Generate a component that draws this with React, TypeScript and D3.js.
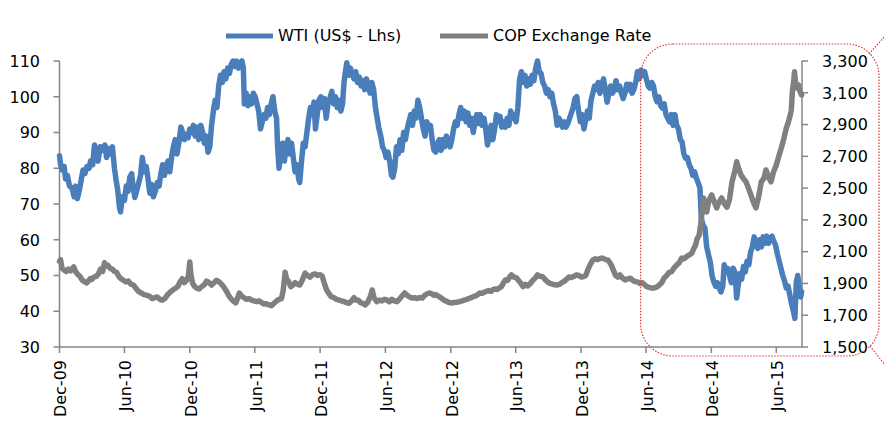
import React from "react";
import * as d3 from "d3";

const wtiData: [string, number][] = [
  ["2009-12-01",83.5],["2009-12-04",81],["2009-12-09",79.5],["2009-12-14",80.5],["2009-12-18",77],["2009-12-23",78],["2009-12-29",75],
  ["2010-01-05",74.5],["2010-01-11",72],["2010-01-15",75],["2010-01-20",71.5],["2010-01-26",74],["2010-02-01",77.5],["2010-02-05",79.5],
  ["2010-02-10",78.5],["2010-02-16",80.5],["2010-02-22",80],["2010-02-26",82],["2010-03-04",81],["2010-03-09",86.5],["2010-03-15",84],
  ["2010-03-19",82],["2010-03-25",86],["2010-04-01",85],["2010-04-07",86.5],["2010-04-12",83],["2010-04-16",85.5],["2010-04-22",84],
  ["2010-04-28",86],["2010-05-04",80],["2010-05-08",77],["2010-05-13",74],["2010-05-18",69],["2010-05-21",67.8],["2010-05-26",72],
  ["2010-06-01",71],["2010-06-06",75],["2010-06-11",73.5],["2010-06-16",77.5],["2010-06-21",78.5],["2010-06-25",75],["2010-06-30",71.8],
  ["2010-07-06",74],["2010-07-11",76],["2010-07-16",78],["2010-07-21",83],["2010-07-26",79],["2010-08-01",80.5],["2010-08-06",77],
  ["2010-08-11",73],["2010-08-16",75.5],["2010-08-21",72],["2010-08-26",73.5],["2010-09-01",76],["2010-09-06",75],["2010-09-11",78.5],
  ["2010-09-16",81],["2010-09-21",78],["2010-09-26",80.5],["2010-10-01",82],["2010-10-06",79],["2010-10-11",83],["2010-10-16",86],
  ["2010-10-21",88],["2010-10-26",84],["2010-11-01",87.5],["2010-11-06",91.5],["2010-11-11",90],["2010-11-16",88],["2010-11-21",89.5],
  ["2010-11-26",88.5],["2010-12-01",91],["2010-12-06",90],["2010-12-11",92],["2010-12-16",89],["2010-12-21",91.5],["2010-12-26",88],
  ["2011-01-01",92],["2011-01-06",90],["2011-01-11",87],["2011-01-16",89],["2011-01-21",84.5],["2011-01-26",86],["2011-01-31",92],
  ["2011-02-05",96],["2011-02-10",99],["2011-02-15",97],["2011-02-20",103],["2011-02-25",106],["2011-03-02",104],["2011-03-07",107],
  ["2011-03-12",105],["2011-03-17",108],["2011-03-22",106.5],["2011-03-27",109],["2011-04-01",110],["2011-04-06",108.5],["2011-04-11",110],
  ["2011-04-16",108],["2011-04-21",109.5],["2011-04-26",110],["2011-04-30",108],["2011-05-03",98],["2011-05-08",101],["2011-05-13",97.5],
  ["2011-05-18",100],["2011-05-23",98],["2011-05-28",101],["2011-06-02",100],["2011-06-07",98],["2011-06-12",96],["2011-06-17",91],
  ["2011-06-22",93],["2011-06-27",95],["2011-07-02",94],["2011-07-07",97],["2011-07-12",95],["2011-07-17",98],["2011-07-22",100],
  ["2011-07-27",96],["2011-08-01",94],["2011-08-04",86],["2011-08-08",80],["2011-08-13",85],["2011-08-18",87],["2011-08-23",82],
  ["2011-08-28",86],["2011-09-02",88],["2011-09-07",84],["2011-09-12",87],["2011-09-17",83],["2011-09-22",79],["2011-09-27",81],
  ["2011-10-02",77],["2011-10-05",76],["2011-10-10",82],["2011-10-15",87],["2011-10-20",86],["2011-10-25",90],["2011-10-30",94],
  ["2011-11-04",97],["2011-11-09",95],["2011-11-14",98.5],["2011-11-18",91],["2011-11-23",95],["2011-11-28",99],["2011-12-03",100],
  ["2011-12-08",97],["2011-12-13",99.5],["2011-12-18",94],["2011-12-23",98],["2011-12-28",99.5],["2012-01-03",101.5],["2012-01-08",98],
  ["2012-01-13",100],["2012-01-18",97],["2012-01-23",99],["2012-01-28",96],["2012-02-02",98],["2012-02-06",104],["2012-02-10",107],
  ["2012-02-14",109.5],["2012-02-19",106],["2012-02-24",108],["2012-02-29",106.5],["2012-03-05",105],["2012-03-10",107],["2012-03-15",104],
  ["2012-03-20",105.5],["2012-03-25",103],["2012-03-30",104.5],["2012-04-04",102],["2012-04-09",105],["2012-04-14",103],["2012-04-19",101],
  ["2012-04-24",104],["2012-04-29",102],["2012-05-04",97],["2012-05-09",94],["2012-05-14",91],["2012-05-19",89],["2012-05-24",86],
  ["2012-05-29",85],["2012-06-03",83],["2012-06-08",84.5],["2012-06-13",82],["2012-06-18",78],["2012-06-22",77.5],["2012-06-27",80],
  ["2012-07-02",86],["2012-07-07",84],["2012-07-12",88],["2012-07-17",85],["2012-07-22",90],["2012-07-27",88],["2012-08-01",91],
  ["2012-08-06",93],["2012-08-11",95],["2012-08-16",92],["2012-08-21",96],["2012-08-26",94],["2012-08-31",99],["2012-09-05",97],
  ["2012-09-10",94],["2012-09-15",91],["2012-09-20",89],["2012-09-25",93],["2012-09-30",91],["2012-10-05",92],["2012-10-10",88],
  ["2012-10-15",85],["2012-10-20",84.5],["2012-10-25",87],["2012-10-30",88],["2012-11-04",85],["2012-11-09",88],["2012-11-14",86],
  ["2012-11-19",89],["2012-11-24",87],["2012-11-29",86],["2012-12-04",88],["2012-12-09",91],["2012-12-14",93],["2012-12-19",92],
  ["2012-12-24",95],["2012-12-29",97],["2013-01-03",94],["2013-01-08",96],["2013-01-13",93],["2013-01-18",95.5],["2013-01-23",92],
  ["2013-01-28",94],["2013-02-02",90],["2013-02-07",93],["2013-02-12",95],["2013-02-17",92.5],["2013-02-22",95],["2013-02-27",92],
  ["2013-03-04",94],["2013-03-09",91],["2013-03-14",86.5],["2013-03-19",89],["2013-03-24",92],["2013-03-29",88],["2013-04-03",91],
  ["2013-04-08",95],["2013-04-13",93],["2013-04-18",94.5],["2013-04-23",91.5],["2013-04-28",93],["2013-05-03",91.5],["2013-05-08",94],
  ["2013-05-13",92],["2013-05-18",96],["2013-05-23",94],["2013-05-28",95],["2013-06-02",93],["2013-06-07",97],["2013-06-12",105],
  ["2013-06-17",107],["2013-06-22",104],["2013-06-27",106],["2013-07-02",103],["2013-07-07",105],["2013-07-12",103.5],["2013-07-17",106],
  ["2013-07-22",104.5],["2013-07-27",108],["2013-08-01",110],["2013-08-06",107],["2013-08-11",106.5],["2013-08-16",104],["2013-08-21",103],
  ["2013-08-26",101],["2013-08-31",102],["2013-09-05",100],["2013-09-10",101],["2013-09-15",98],["2013-09-20",96],["2013-09-25",92],
  ["2013-09-30",94],["2013-10-05",93],["2013-10-10",91.5],["2013-10-15",93],["2013-10-20",91.5],["2013-10-25",92.5],["2013-10-30",94],
  ["2013-11-04",95.5],["2013-11-09",97],["2013-11-14",99.5],["2013-11-19",100],["2013-11-24",96],["2013-11-29",93],["2013-12-04",95],
  ["2013-12-09",91],["2013-12-14",93.5],["2013-12-19",96],["2013-12-24",94],["2013-12-29",99],["2014-01-03",101],["2014-01-08",103],
  ["2014-01-13",102],["2014-01-18",104],["2014-01-23",101],["2014-01-28",103],["2014-02-02",105],["2014-02-07",102],["2014-02-12",98.5],
  ["2014-02-17",101],["2014-02-22",103],["2014-02-27",101],["2014-03-04",102],["2014-03-09",104.5],["2014-03-14",102],["2014-03-19",103],
  ["2014-03-24",101],["2014-03-29",99.5],["2014-04-03",101],["2014-04-08",103.5],["2014-04-13",102],["2014-04-18",103.5],["2014-04-23",101],
  ["2014-04-28",102],["2014-05-03",104],["2014-05-08",107],["2014-05-13",105],["2014-05-18",107.5],["2014-05-23",106],["2014-05-28",107],
  ["2014-06-02",105],["2014-06-07",103],["2014-06-12",102.4],["2014-06-17",104],["2014-06-22",103],["2014-06-27",100],["2014-07-02",98.6],
  ["2014-07-07",100],["2014-07-12",97.5],["2014-07-17",96.8],["2014-07-22",98],["2014-07-27",95],["2014-08-01",94],["2014-08-06",93],
  ["2014-08-11",95],["2014-08-16",92],["2014-08-21",95],["2014-08-26",92],["2014-08-31",91],["2014-09-05",88],["2014-09-10",87.4],
  ["2014-09-15",84],["2014-09-20",82.8],["2014-09-25",83],["2014-09-30",81],["2014-10-05",80],["2014-10-10",78],["2014-10-15",79],
  ["2014-10-20",77.3],["2014-10-25",76],["2014-10-30",74.5],["2014-11-03",66],["2014-11-08",64],["2014-11-13",63.3],["2014-11-18",58],
  ["2014-11-23",55.8],["2014-11-28",53.8],["2014-12-03",50],["2014-12-08",48.2],["2014-12-13",47],["2014-12-18",48],["2014-12-23",46.5],
  ["2014-12-28",45.4],["2015-01-02",47],["2015-01-06",53],["2015-01-11",51],["2015-01-16",52],["2015-01-21",50],["2015-01-26",48],
  ["2015-01-31",52],["2015-02-05",51],["2015-02-10",43.7],["2015-02-14",47],["2015-02-19",50.5],["2015-02-24",49],["2015-03-01",52.5],
  ["2015-03-06",51],["2015-03-11",54],["2015-03-16",53],["2015-03-21",56.6],["2015-03-26",58],["2015-03-31",60.8],["2015-04-05",59],
  ["2015-04-10",57.6],["2015-04-15",60],["2015-04-20",58],["2015-04-25",60.8],["2015-04-30",59],["2015-05-05",61],["2015-05-10",59],
  ["2015-05-15",60.5],["2015-05-20",61],["2015-05-25",59.5],["2015-05-30",58.5],["2015-06-04",56],["2015-06-09",54],["2015-06-14",52],
  ["2015-06-19",50],["2015-06-24",48.5],["2015-06-29",46.5],["2015-07-04",47],["2015-07-09",44.5],["2015-07-14",42],["2015-07-19",40],
  ["2015-07-23",38],["2015-07-27",48],["2015-07-31",50],["2015-08-04",47],["2015-08-08",44],["2015-08-11",45.5],
];

const copData: [string, number][] = [
  ["2009-12-01",2040],["2009-12-04",2050],["2009-12-08",1995],["2009-12-14",1985],["2009-12-20",1975],["2009-12-26",1990],
  ["2010-01-01",1980],["2010-01-06",1995],["2010-01-10",2004],["2010-01-15",1975],["2010-01-20",1960],["2010-01-27",1945],
  ["2010-02-03",1920],["2010-02-10",1910],["2010-02-15",1903],["2010-02-20",1915],["2010-02-25",1930],["2010-03-02",1925],
  ["2010-03-07",1940],["2010-03-14",1945],["2010-03-20",1960],["2010-03-26",1990],["2010-04-01",1975],["2010-04-06",2030],
  ["2010-04-10",2010],["2010-04-15",2015],["2010-04-22",1995],["2010-04-28",1990],["2010-05-04",1975],["2010-05-10",1970],
  ["2010-05-16",1945],["2010-05-22",1930],["2010-05-29",1920],["2010-06-05",1910],["2010-06-12",1915],["2010-06-19",1895],
  ["2010-06-26",1890],["2010-07-03",1870],["2010-07-10",1850],["2010-07-18",1840],["2010-07-26",1830],["2010-08-03",1825],
  ["2010-08-10",1820],["2010-08-18",1805],["2010-08-25",1810],["2010-09-01",1815],["2010-09-08",1800],["2010-09-15",1795],
  ["2010-09-22",1805],["2010-09-30",1830],["2010-10-07",1845],["2010-10-15",1860],["2010-10-22",1870],["2010-10-28",1880],
  ["2010-11-04",1910],["2010-11-10",1930],["2010-11-16",1905],["2010-11-22",1920],["2010-11-27",1945],["2010-12-01",2035],
  ["2010-12-04",1960],["2010-12-09",1900],["2010-12-15",1880],["2010-12-21",1870],["2010-12-27",1865],["2011-01-03",1880],
  ["2011-01-10",1890],["2011-01-17",1915],["2011-01-24",1905],["2011-01-31",1890],["2011-02-07",1905],["2011-02-14",1920],
  ["2011-02-21",1910],["2011-02-28",1895],["2011-03-07",1875],["2011-03-14",1850],["2011-03-21",1820],["2011-03-28",1800],
  ["2011-04-04",1785],["2011-04-09",1778],["2011-04-15",1815],["2011-04-19",1840],["2011-04-25",1820],["2011-05-02",1810],
  ["2011-05-09",1800],["2011-05-16",1805],["2011-05-23",1795],["2011-05-30",1790],["2011-06-06",1785],["2011-06-13",1790],
  ["2011-06-20",1780],["2011-06-27",1770],["2011-07-04",1772],["2011-07-11",1765],["2011-07-18",1760],["2011-07-25",1775],
  ["2011-08-01",1790],["2011-08-08",1800],["2011-08-15",1805],["2011-08-20",1860],["2011-08-25",1970],["2011-08-29",1930],
  ["2011-09-03",1915],["2011-09-10",1880],["2011-09-16",1890],["2011-09-22",1905],["2011-09-28",1895],["2011-10-05",1890],
  ["2011-10-12",1920],["2011-10-20",1965],["2011-10-27",1950],["2011-11-03",1940],["2011-11-10",1955],["2011-11-17",1960],
  ["2011-11-24",1950],["2011-12-01",1955],["2011-12-07",1945],["2011-12-13",1900],["2011-12-19",1860],["2011-12-26",1835],
  ["2012-01-02",1815],["2012-01-09",1810],["2012-01-16",1800],["2012-01-23",1795],["2012-01-30",1790],["2012-02-06",1785],
  ["2012-02-13",1780],["2012-02-20",1775],["2012-02-27",1790],["2012-03-05",1810],["2012-03-10",1795],["2012-03-16",1796],
  ["2012-03-23",1780],["2012-03-30",1775],["2012-04-05",1765],["2012-04-12",1780],["2012-04-20",1820],["2012-04-25",1859],
  ["2012-04-30",1810],["2012-05-08",1785],["2012-05-15",1795],["2012-05-22",1790],["2012-05-29",1800],["2012-06-05",1796],
  ["2012-06-12",1785],["2012-06-19",1800],["2012-06-26",1790],["2012-07-03",1785],["2012-07-10",1800],["2012-07-17",1820],
  ["2012-07-25",1840],["2012-08-01",1825],["2012-08-08",1815],["2012-08-15",1808],["2012-08-22",1810],["2012-08-29",1805],
  ["2012-09-05",1812],["2012-09-12",1808],["2012-09-19",1825],["2012-09-26",1835],["2012-10-02",1840],["2012-10-09",1835],
  ["2012-10-15",1825],["2012-10-20",1830],["2012-10-27",1820],["2012-11-05",1808],["2012-11-12",1795],["2012-11-19",1788],
  ["2012-11-26",1780],["2012-12-03",1777],["2012-12-10",1780],["2012-12-17",1782],["2012-12-25",1785],["2013-01-02",1790],
  ["2013-01-08",1796],["2013-01-13",1798],["2013-01-20",1805],["2013-01-27",1810],["2013-02-02",1817],["2013-02-09",1822],
  ["2013-02-15",1830],["2013-02-20",1840],["2013-02-27",1838],["2013-03-05",1845],["2013-03-10",1850],["2013-03-17",1855],
  ["2013-03-24",1850],["2013-03-28",1860],["2013-04-05",1865],["2013-04-10",1862],["2013-04-15",1870],["2013-04-22",1880],
  ["2013-04-28",1905],["2013-05-03",1922],["2013-05-10",1920],["2013-05-15",1940],["2013-05-20",1954],["2013-05-27",1940],
  ["2013-06-03",1935],["2013-06-08",1922],["2013-06-14",1905],["2013-06-22",1880],["2013-06-28",1895],["2013-07-05",1885],
  ["2013-07-12",1900],["2013-07-19",1920],["2013-07-26",1935],["2013-08-01",1954],["2013-08-08",1945],["2013-08-15",1943],
  ["2013-08-22",1925],["2013-08-29",1910],["2013-09-05",1900],["2013-09-12",1895],["2013-09-19",1892],["2013-09-25",1890],
  ["2013-10-02",1895],["2013-10-08",1905],["2013-10-14",1912],["2013-10-21",1925],["2013-10-28",1940],["2013-11-04",1938],
  ["2013-11-11",1945],["2013-11-18",1954],["2013-11-25",1950],["2013-12-02",1940],["2013-12-08",1943],["2013-12-14",1950],
  ["2013-12-20",1985],["2013-12-27",2020],["2014-01-03",2048],["2014-01-10",2055],["2014-01-17",2050],["2014-01-25",2059],
  ["2014-02-01",2058],["2014-02-08",2050],["2014-02-14",2048],["2014-02-20",2030],["2014-02-25",2010],["2014-03-02",1980],
  ["2014-03-08",1950],["2014-03-14",1940],["2014-03-20",1954],["2014-03-27",1935],["2014-04-03",1922],["2014-04-10",1928],
  ["2014-04-18",1933],["2014-04-25",1920],["2014-05-01",1912],["2014-05-08",1910],["2014-05-15",1900],["2014-05-22",1905],
  ["2014-05-29",1890],["2014-06-03",1880],["2014-06-10",1875],["2014-06-17",1871],["2014-06-24",1872],["2014-07-01",1877],
  ["2014-07-08",1890],["2014-07-15",1905],["2014-07-22",1935],["2014-07-29",1950],["2014-08-05",1970],["2014-08-12",1974],
  ["2014-08-19",2000],["2014-08-26",2016],["2014-09-02",2030],["2014-09-09",2060],["2014-09-16",2055],["2014-09-23",2070],
  ["2014-09-30",2079],["2014-10-07",2090],["2014-10-13",2120],["2014-10-18",2142],["2014-10-22",2180],["2014-10-28",2205],
  ["2014-11-01",2270],["2014-11-05",2350],["2014-11-09",2438],["2014-11-13",2410],["2014-11-18",2350],["2014-11-24",2420],
  ["2014-12-02",2457],["2014-12-08",2420],["2014-12-16",2375],["2014-12-22",2410],["2014-12-30",2438],["2015-01-07",2400],
  ["2015-01-14",2380],["2015-01-21",2430],["2015-01-28",2540],["2015-02-04",2600],["2015-02-10",2666],["2015-02-16",2620],
  ["2015-02-22",2583],["2015-03-01",2560],["2015-03-08",2540],["2015-03-15",2500],["2015-03-22",2457],["2015-03-29",2410],
  ["2015-04-05",2375],["2015-04-12",2440],["2015-04-20",2540],["2015-04-27",2560],["2015-05-03",2614],["2015-05-10",2570],
  ["2015-05-17",2540],["2015-05-24",2600],["2015-06-01",2645],["2015-06-08",2700],["2015-06-15",2752],["2015-06-22",2810],
  ["2015-06-29",2878],["2015-07-04",2910],["2015-07-08",2941],["2015-07-13",2990],["2015-07-16",3107],["2015-07-20",3180],
  ["2015-07-22",3233],["2015-07-25",3160],["2015-07-28",3130],["2015-08-02",3150],["2015-08-06",3110],["2015-08-11",3086],
];

const xTickLabels = ["Dec-09","Jun-10","Dec-10","Jun-11","Dec-11","Jun-12","Dec-12","Jun-13","Dec-13","Jun-14","Dec-14","Jun-15"];
const leftTicks = [30, 40, 50, 60, 70, 80, 90, 100, 110];
const rightTicks = [1500, 1700, 1900, 2100, 2300, 2500, 2700, 2900, 3100, 3300];
const seriesNames = ["WTI (US$ - Lhs)", "COP Exchange Rate"];
const seriesColors = ["#4a7ebb", "#808080"];
const xDomain = ["2009-12-01", "2015-08-12"];

const FONT = "'DejaVu Sans', sans-serif";
const AXIS = "#868686";
const RED = "#e0383a";

export default function App() {
  const parse = d3.timeParse("%Y-%m-%d");
  const parseTick = d3.timeParse("%b-%y");
  const x = d3.scaleTime().domain(xDomain.map((s) => parse(s) as Date)).range([59.5, 802]);
  const yL = d3.scaleLinear().domain([30, 110]).range([347, 61]);
  const yR = d3.scaleLinear().domain([1500, 3300]).range([347, 61]);
  const fmt = d3.format(",");

  const lineL = d3.line<[string, number]>().x((d) => x(parse(d[0]) as Date)).y((d) => yL(d[1]));
  const lineR = d3.line<[string, number]>().x((d) => x(parse(d[0]) as Date)).y((d) => yR(d[1]));

  const x0 = x.range()[0];
  const x1 = x.range()[1];
  const yb = yL.range()[0];
  const yt = yL.range()[1];

  const bx = x(parse("2014-05-17") as Date);
  const by = 44;
  const bw = 879 - bx;
  const bh = 356 - by;

  return (
    <svg width={885} height={433} style={{ position: "absolute", left: 0, top: 0, background: "#fff" }} fontFamily={FONT}>
      <rect x={0} y={0} width={885} height={433} fill="#fff" />
      <line x1={x0} x2={x0} y1={yt} y2={yb} stroke={AXIS} strokeWidth={1.5} />
      {leftTicks.map((t) => (
        <g key={"l" + t}>
          <line x1={x0 - 6} x2={x0} y1={yL(t)} y2={yL(t)} stroke={AXIS} strokeWidth={1.5} />
          <text x={40} y={yL(t)} dy="0.36em" textAnchor="end" fontSize={16} fill="#000">{t}</text>
        </g>
      ))}
      <line x1={x1} x2={x1} y1={yt} y2={yb} stroke={AXIS} strokeWidth={1.5} />
      {rightTicks.map((t) => (
        <g key={"r" + t}>
          <line x1={x1} x2={x1 + 6} y1={yR(t)} y2={yR(t)} stroke={AXIS} strokeWidth={1.5} />
          <text x={822} y={yR(t)} dy="0.36em" textAnchor="start" fontSize={16} fill="#000">{fmt(t)}</text>
        </g>
      ))}
      <line x1={x0} x2={x1} y1={yb} y2={yb} stroke={AXIS} strokeWidth={1.5} />
      {xTickLabels.map((lab) => {
        const tx = x(parseTick(lab) as Date);
        return (
          <g key={lab}>
            <line x1={tx} x2={tx} y1={yb} y2={yb + 6} stroke={AXIS} strokeWidth={1.5} />
            <text transform={`translate(${tx + 1},360) rotate(-90)`} dy="0.36em" textAnchor="end" fontSize={16} fill="#000">{lab}</text>
          </g>
        );
      })}
      <path d={lineL(wtiData) || ""} fill="none" stroke={seriesColors[0]} strokeWidth={5.5} strokeLinejoin="round" strokeLinecap="round" />
      <path d={lineR(copData) || ""} fill="none" stroke={seriesColors[1]} strokeWidth={5.5} strokeLinejoin="round" strokeLinecap="round" />
      <line x1={226} x2={273} y1={36} y2={36} stroke={seriesColors[0]} strokeWidth={5} />
      <text x={278} y={41} fontSize={16} fill="#000">{seriesNames[0]}</text>
      <line x1={440} x2={488} y1={36} y2={36} stroke={seriesColors[1]} strokeWidth={5} />
      <text x={493} y={41} fontSize={16} fill="#000">{seriesNames[1]}</text>
      <rect x={bx} y={by} width={bw} height={bh} rx={32} ry={32} fill="none" stroke={RED} strokeWidth={1.2} strokeDasharray="1.5,1.5" />
      <line x1={869} x2={885} y1={54} y2={36} stroke={RED} strokeWidth={1.2} strokeDasharray="1.5,1.5" />
      <line x1={870} x2={885} y1={346} y2={365} stroke={RED} strokeWidth={1.2} strokeDasharray="1.5,1.5" />
    </svg>
  );
}
